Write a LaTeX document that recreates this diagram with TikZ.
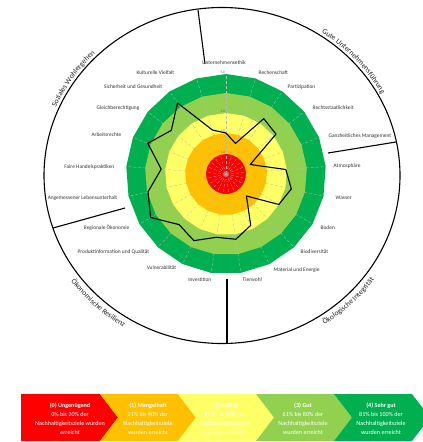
\documentclass[tikz,border=0pt]{standalone}
\usepackage{fontspec}
\setmainfont{Carlito}
\usetikzlibrary{decorations.text}
\definecolor{cRed}{HTML}{FF0000}
\definecolor{cOrange}{HTML}{FFC000}
\definecolor{cYellow}{HTML}{FFFF66}
\definecolor{cLGreen}{HTML}{92D050}
\definecolor{cGreen}{HTML}{00B050}
\newcommand\ringpoly[1]{(-90:#1) \foreach \k in {1,...,20}{ -- ({\k*360/21-90}:#1)} -- cycle}
\newcommand\quadfont{\fontsize{7.5}{9}\selectfont\color{black!85}}
\begin{document}
\begin{tikzpicture}[x=1pt,y=-1pt,
  lbl/.style={font=\fontsize{5.4}{6}\selectfont, text=black!80, inner sep=0.5pt},
  spoke/.style={draw=gray!55, line width=0.3pt, densely dashed},
  divider/.style={draw=black, line width=1.1pt},
  datal/.style={draw=black, line width=1.1pt, line join=round},
  legtxt/.style={font=\fontsize{6.1}{8.9}\selectfont, text=white, align=center, inner sep=0pt},
  tickl/.style={font=\fontsize{3.5}{4}\selectfont, text=black!60, inner sep=0.3pt},
  arctext/.style={decorate, decoration={text along path, text align=center, text={#1}}}
]
\useasboundingbox (0,0) rectangle (423,442);
\fill[white] (0,0) rectangle (423,442);

% outer ellipse
\draw[line width=1.1pt] (222,175.5) ellipse [x radius=178, y radius=168];

% dividers
\coordinate (dTo) at (198,10);  \coordinate (dTi) at (205,64);
\coordinate (dRo) at (396,142); \coordinate (dRi) at (328,153);
\coordinate (dLo) at (53,228);  \coordinate (dLi) at (125,208);
\coordinate (dBo) at (227,343); \coordinate (dBi) at (227,279);
\draw[divider] (dTo) -- (dTi);
\draw[divider] (dRo) -- (dRi);
\draw[divider] (dLo) -- (dLi);
\draw[divider] (dBo) -- (dBi);

% radar
\begin{scope}[shift={(226,174)}]
  \fill[cGreen]  \ringpoly{100};
  \fill[cLGreen] \ringpoly{81};
  \fill[cYellow] \ringpoly{61};
  \fill[cOrange] \ringpoly{41};
  \fill[cRed]    \ringpoly{20};
  \foreach \k in {0,...,20} \draw[spoke] (0,0) -- ({\k*360/21-90}:100);
  \draw[datal] (-90:41) \foreach \v [count=\k] in {32,67,64,26,60,67,61,30,57,66,64,74,69,87,80,65,84,70,86,46}{ -- ({\k*360/21-90}:\v)} -- cycle;
  \node[tickl] (t0) at (0,0) {0,0};
  \foreach \r/\t in {20/1,41/2,61/3,81/4,100/5}
    \node[tickl, anchor=south east] (t\t) at (-0.5,-\r) {\t,0};
\end{scope}

% axis labels
\node[lbl] (a0) at (224,63) {Unternehmensethik};
\node[lbl, anchor=west] (a1) at (258,73) {Rechenschaft};
\node[lbl, anchor=west] (a2) at (287,87) {Partizipation};
\node[lbl, anchor=west] (a3) at (312,108) {Rechtsstaatlichkeit};
\node[lbl, anchor=west] (a4) at (328,136) {Ganzheitliches Management};
\node[lbl, anchor=west] (a5) at (333,166) {Atmosphäre};
\node[lbl, anchor=west] (a6) at (335,198) {Wasser};
\node[lbl, anchor=west] (a7) at (320,228) {Boden};
\node[lbl, anchor=west] (a8) at (300,252) {Biodiversität};
\node[lbl, anchor=west] (a9) at (273,270) {Material und Energie};
\node[lbl, anchor=west] (a10) at (242,280) {Tierwohl};
\node[lbl, anchor=east] (a11) at (212,280) {Investition};
\node[lbl, anchor=east] (a12) at (177,268) {Vulnerabilität};
\node[lbl, anchor=east] (a13) at (150,252) {Produktinformation und Qualität};
\node[lbl, anchor=east] (a14) at (130,228) {Regionale Ökonomie};
\node[lbl, anchor=east] (a15) at (118,198) {Angemessener Lebensunterhalt};
\node[lbl, anchor=east] (a16) at (115,167) {Faire Handelspraktiken};
\node[lbl, anchor=east] (a17) at (122,135) {Arbeitsrechte};
\node[lbl, anchor=east] (a18) at (140,108) {Gleichberechtigung};
\node[lbl, anchor=east] (a19) at (163,87) {Sicherheit und Gesundheit};
\node[lbl, anchor=east] (a20) at (175,73) {Kulturelle Vielfalt};

% quadrant titles along the outer ring
\path[arctext={|\quadfont|Soziales Wohlergehen}]
  plot[domain=181:111, samples=60] ({222+181*cos(\x)}, {175.5-171*sin(\x)});
\path[arctext={|\quadfont|Gute Unternehmensführung}]
  plot[domain=78:6, samples=60] ({222+181*cos(\x)}, {175.5-171*sin(\x)});
\path[arctext={|\quadfont|Ökonomische Resilienz}]
  plot[domain=192:262, samples=60] ({222+188*cos(\x)}, {175.5-178*sin(\x)});
\path[arctext={|\quadfont|Ökologische Integrität}]
  plot[domain=-81:-11, samples=60] ({222+188*cos(\x)}, {175.5-178*sin(\x)});

% legend
\fill[cRed] (21,394) -- (100,394) -- (118,417.5) -- (100,441) -- (21,441) -- cycle;
\foreach \L/\c in {100/cOrange,178/cYellow,256/cLGreen,334/cGreen}
  \fill[\c] (\L,394) -- (\L+78,394) -- (\L+96,417.5) -- (\L+78,441) -- (\L,441) -- (\L+18,417.5) -- cycle;
\node[legtxt] (l0) at (70,419) {\textbf{(0) Ungenügend}\\0\% bis 20\% der\\Nachhaltigkeitsziele wurden\\erreicht};
\node[legtxt] (l1) at (148,419) {\textbf{(1) Mangelhaft}\\21\% bis 40\% der\\Nachhaltigkeitsziele\\wurden erreicht};
\node[legtxt] (l2) at (225,419) {\textbf{(2) Mäßig}\\41\% bis 60\% der\\Nachhaltigkeitsziele\\wurden erreicht};
\node[legtxt] (l3) at (303,419) {\textbf{(3) Gut}\\61\% bis 80\% der\\Nachhaltigkeitsziele\\wurden erreicht};
\node[legtxt] (l4) at (381,419) {\textbf{(4) Sehr gut}\\81\% bis 100\% der\\Nachhaltigkeitsziele\\wurden erreicht};
\end{tikzpicture}
\end{document}
